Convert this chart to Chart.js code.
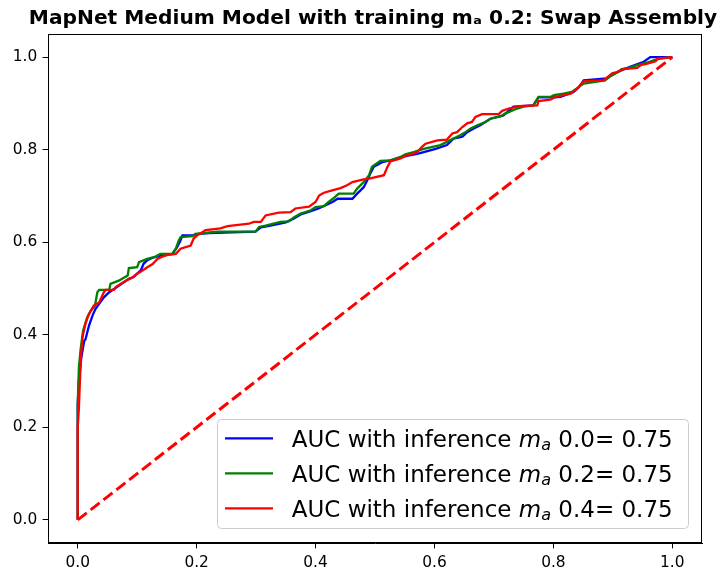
<!DOCTYPE html>
<html><head><meta charset="utf-8">
<script src="https://cdn.jsdelivr.net/npm/chart.js@4.4.1/dist/chart.umd.min.js"></script>
<style>html,body{margin:0;padding:0;background:#fff;}canvas{display:block;}</style>
</head><body>
<canvas id="c" width="721" height="570"></canvas>
<script>
// ---------- data ----------
const titleText = 'MapNet Medium Model with training mₐ 0.2: Swap Assembly';
const xTicks = [0.0, 0.2, 0.4, 0.6, 0.8, 1.0];
const yTicks = [0.0, 0.2, 0.4, 0.6, 0.8, 1.0];
const legendPrefix = 'AUC with inference ';
const inferenceMa = ['0.0', '0.2', '0.4'];
const aucValues = ['0.75', '0.75', '0.75'];
const seriesColors = ['#0000ff', '#008000', '#ff0000'];

const rocMa00 = [[0,0],[0,0.25],[0.002,0.30],[0.006,0.35],[0.011,0.387],[0.013,0.39],[0.019,0.42],[0.025,0.442],[0.030,0.456],[0.036,0.467],[0.044,0.481],[0.053,0.492],[0.061,0.499],[0.069,0.506],[0.078,0.514],[0.086,0.521],[0.094,0.525],[0.100,0.532],[0.106,0.539],[0.111,0.554],[0.117,0.561],[0.125,0.566],[0.139,0.571],[0.159,0.575],[0.167,0.589],[0.173,0.604],[0.176,0.615],[0.193,0.615],[0.204,0.618],[0.221,0.620],[0.299,0.623],[0.308,0.632],[0.324,0.636],[0.350,0.643],[0.363,0.651],[0.375,0.660],[0.392,0.667],[0.405,0.673],[0.417,0.680],[0.430,0.688],[0.437,0.694],[0.462,0.694],[0.470,0.705],[0.481,0.719],[0.487,0.734],[0.492,0.748],[0.498,0.763],[0.512,0.773],[0.526,0.777],[0.543,0.784],[0.571,0.791],[0.582,0.795],[0.602,0.802],[0.621,0.810],[0.632,0.824],[0.647,0.828],[0.655,0.838],[0.666,0.846],[0.677,0.853],[0.694,0.867],[0.716,0.874],[0.733,0.893],[0.766,0.896],[0.775,0.913],[0.801,0.913],[0.812,0.914],[0.834,0.925],[0.843,0.935],[0.851,0.950],[0.890,0.954],[0.899,0.962],[0.915,0.972],[0.929,0.979],[0.952,0.990],[0.963,1.0],[1,1]];

const rocMa02 = [[0,0],[0,0.25],[0.002,0.33],[0.005,0.37],[0.009,0.409],[0.016,0.438],[0.022,0.452],[0.029,0.463],[0.033,0.492],[0.036,0.497],[0.053,0.497],[0.055,0.510],[0.069,0.517],[0.084,0.528],[0.086,0.544],[0.100,0.546],[0.103,0.557],[0.117,0.564],[0.131,0.569],[0.139,0.575],[0.159,0.575],[0.165,0.586],[0.170,0.604],[0.173,0.611],[0.193,0.613],[0.198,0.618],[0.215,0.620],[0.235,0.623],[0.299,0.623],[0.305,0.633],[0.316,0.636],[0.341,0.644],[0.355,0.645],[0.364,0.654],[0.375,0.662],[0.392,0.669],[0.400,0.676],[0.414,0.678],[0.422,0.687],[0.431,0.696],[0.439,0.705],[0.464,0.705],[0.470,0.716],[0.481,0.730],[0.490,0.745],[0.495,0.763],[0.509,0.776],[0.526,0.777],[0.543,0.784],[0.551,0.790],[0.565,0.795],[0.582,0.802],[0.593,0.805],[0.610,0.810],[0.621,0.817],[0.632,0.824],[0.644,0.832],[0.652,0.838],[0.661,0.846],[0.672,0.853],[0.686,0.860],[0.694,0.867],[0.711,0.872],[0.719,0.878],[0.739,0.889],[0.750,0.893],[0.767,0.896],[0.775,0.914],[0.795,0.914],[0.801,0.918],[0.817,0.921],[0.831,0.925],[0.840,0.933],[0.851,0.943],[0.887,0.950],[0.896,0.959],[0.907,0.967],[0.915,0.974],[0.927,0.977],[0.941,0.983],[0.957,0.988],[0.971,0.994],[0.980,0.997],[1,1]];

const rocMa04 = [[0,0],[0,0.20],[0.002,0.243],[0.005,0.344],[0.008,0.395],[0.013,0.424],[0.019,0.445],[0.027,0.463],[0.036,0.470],[0.044,0.492],[0.047,0.497],[0.061,0.497],[0.064,0.503],[0.072,0.510],[0.081,0.517],[0.092,0.524],[0.100,0.532],[0.109,0.539],[0.117,0.546],[0.126,0.553],[0.134,0.564],[0.142,0.569],[0.153,0.573],[0.165,0.575],[0.173,0.586],[0.190,0.593],[0.195,0.608],[0.201,0.615],[0.215,0.626],[0.226,0.628],[0.240,0.630],[0.252,0.635],[0.288,0.640],[0.296,0.644],[0.308,0.644],[0.316,0.658],[0.338,0.664],[0.358,0.665],[0.366,0.673],[0.389,0.677],[0.400,0.687],[0.406,0.701],[0.414,0.707],[0.428,0.712],[0.442,0.717],[0.453,0.723],[0.462,0.730],[0.481,0.736],[0.492,0.738],[0.515,0.745],[0.521,0.763],[0.526,0.775],[0.543,0.781],[0.554,0.788],[0.563,0.791],[0.571,0.795],[0.579,0.806],[0.585,0.813],[0.605,0.820],[0.621,0.822],[0.630,0.835],[0.638,0.838],[0.647,0.849],[0.655,0.857],[0.663,0.860],[0.669,0.871],[0.680,0.877],[0.708,0.877],[0.714,0.884],[0.725,0.889],[0.742,0.894],[0.773,0.896],[0.775,0.905],[0.795,0.908],[0.803,0.914],[0.829,0.921],[0.840,0.932],[0.851,0.948],[0.885,0.950],[0.890,0.956],[0.899,0.965],[0.907,0.968],[0.918,0.974],[0.941,0.977],[0.947,0.983],[0.958,0.986],[0.972,0.991],[0.975,0.997],[1,1]];

const chanceLine = [[0,0],[1,1]];

// ---------- chart ----------
const FONT = "'DejaVu Sans', sans-serif";
const toPts = arr => arr.map(p => ({x: p[0], y: p[1]}));
const rocSeries = [rocMa00, rocMa02, rocMa04];

const datasets = rocSeries.map((s, i) => ({
  label: legendPrefix + 'mₐ ' + inferenceMa[i] + '= ' + aucValues[i],
  data: toPts(s),
  borderColor: seriesColors[i],
  backgroundColor: seriesColors[i],
  borderWidth: 2.3,
  pointRadius: 0,
  tension: 0,
  fill: false,
  order: 4 - i
}));
datasets.push({
  label: 'chance',
  data: toPts(chanceLine),
  borderColor: '#ff0000',
  borderWidth: 3,
  borderDash: [11.4, 4.9],
  pointRadius: 0,
  fill: false,
  order: 1
});

const framePlugin = {
  id: 'frame',
  afterLayout(chart) {
    // let the title span the full width of the figure (as in matplotlib)
    const t = chart.titleBlock;
    if (t) { t.left = 28; t.right = 718; t.width = 690; }
  },
  afterDatasetsDraw(chart) {
    const {ctx, chartArea: a} = chart;
    ctx.save();
    ctx.strokeStyle = '#000';
    ctx.lineWidth = 1;
    ctx.strokeRect(Math.round(a.left) + 0.5, Math.round(a.top) + 0.5,
                   Math.round(a.right - a.left) - 1, Math.round(a.bottom - a.top) - 1);
    ctx.restore();
  },
  afterDraw(chart) {
    const ctx = chart.ctx;
    ctx.save();
    const bx = 217.5, by = 419.5, bw = 471, bh = 109, r = 4;
    ctx.beginPath();
    ctx.moveTo(bx + r, by);
    ctx.arcTo(bx + bw, by, bx + bw, by + bh, r);
    ctx.arcTo(bx + bw, by + bh, bx, by + bh, r);
    ctx.arcTo(bx, by + bh, bx, by, r);
    ctx.arcTo(bx, by, bx + bw, by, r);
    ctx.closePath();
    ctx.fillStyle = 'rgba(255,255,255,0.8)';
    ctx.fill();
    ctx.strokeStyle = '#cccccc';
    ctx.lineWidth = 1;
    ctx.stroke();
    for (let i = 0; i < inferenceMa.length; i++) {
      const cy = 438.3 + 35 * i;
      ctx.beginPath();
      ctx.moveTo(225, cy);
      ctx.lineTo(273, cy);
      ctx.strokeStyle = seriesColors[i];
      ctx.lineWidth = 2.3;
      ctx.stroke();
      let x = 291.7;
      const base = cy + 8.3;
      ctx.fillStyle = '#000';
      ctx.textBaseline = 'alphabetic';
      ctx.textAlign = 'left';
      ctx.font = '23px ' + FONT;
      ctx.fillText(legendPrefix, x, base);
      x += ctx.measureText(legendPrefix).width;
      ctx.font = 'italic 23px ' + FONT;
      ctx.fillText('m', x, base);
      x += ctx.measureText('m').width;
      ctx.font = 'italic 16.1px ' + FONT;
      ctx.fillText('a', x, base + 3.8);
      x += ctx.measureText('a').width;
      ctx.font = '23px ' + FONT;
      const tail = ' ' + inferenceMa[i] + '= ' + aucValues[i];
      ctx.fillText(tail, x, base);
    }
    ctx.restore();
  }
};

const axisCommon = (ticksArr, fitFn) => ({
  type: 'linear',
  min: -0.05,
  max: 1.05,
  afterBuildTicks: s => { s.ticks = ticksArr.map(v => ({value: v})); },
  afterFit: fitFn,
  ticks: {
    callback: v => Number(v).toFixed(1),
    font: {family: FONT, size: 15.4},
    color: '#000',
    padding: 5.4,
    autoSkip: false,
    maxRotation: 0
  },
  grid: {
    display: true,
    drawOnChartArea: false,
    drawTicks: true,
    tickLength: 5.4,
    tickWidth: 1,
    tickColor: '#000',
    color: '#000'
  },
  border: {display: true, color: '#000', width: 1}
});

new Chart(document.getElementById('c'), {
  type: 'line',
  data: {datasets},
  plugins: [framePlugin],
  options: {
    responsive: false,
    animation: false,
    devicePixelRatio: 1,
    layout: {padding: {left: 0, right: 19, top: 0, bottom: 0}},
    plugins: {
      legend: {display: false},
      tooltip: {enabled: false},
      title: {
        display: true,
        text: titleText,
        fullSize: false,
        color: '#000',
        font: {family: FONT, size: 20.2, weight: 'bold'},
        padding: {top: 6.4, bottom: 3.4}
      }
    },
    scales: {
      x: axisCommon(xTicks, s => { s.height = 27; }),
      y: axisCommon(yTicks, s => { s.width = 48; })
    }
  }
});
</script>
</body></html>
